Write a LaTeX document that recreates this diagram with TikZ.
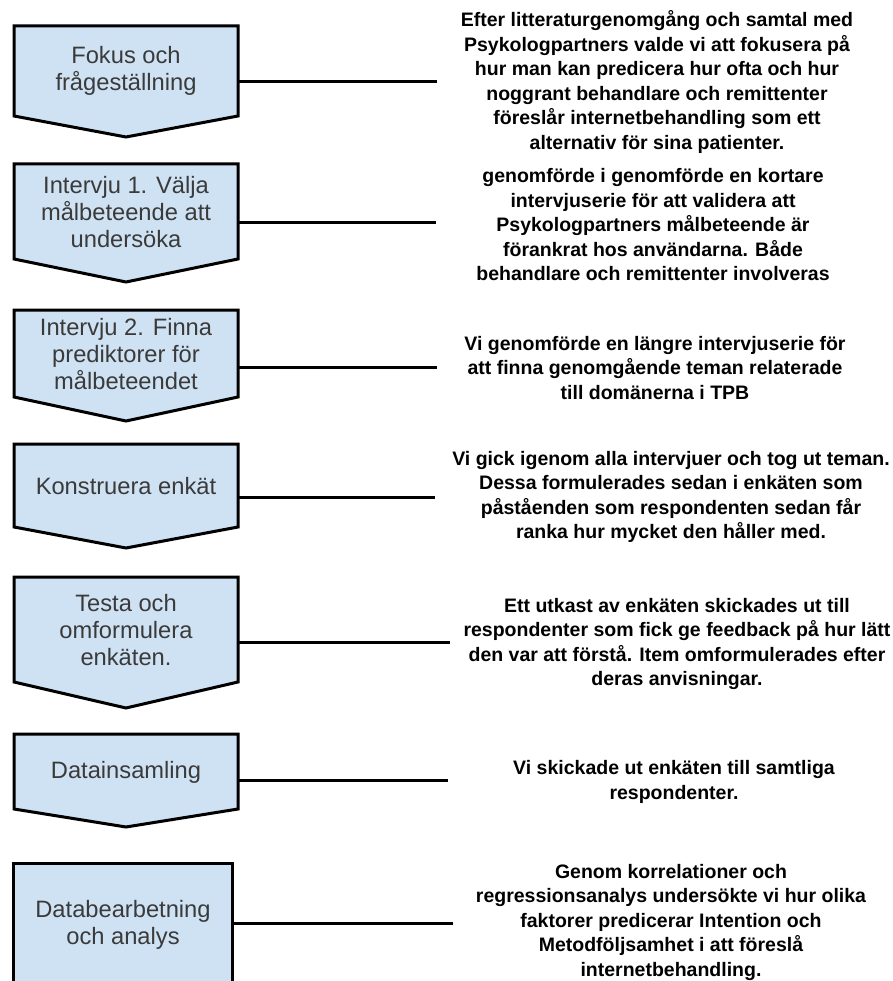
\documentclass[tikz,border=0pt]{standalone}
\usepackage{fontspec}
\setmainfont{Liberation Sans}
\definecolor{boxblue}{HTML}{CFE2F3}
\definecolor{boxtext}{HTML}{3A3A3A}
\begin{document}
\begin{tikzpicture}[x=1pt,y=-1pt,
  stepshape/.style={draw=black, line width=3pt, fill=boxblue, line join=miter},
  boxlabel/.style={align=center, text=boxtext, font=\fontsize{23.7}{26.7}\selectfont, inner sep=0pt},
  desc/.style={align=center, font=\bfseries\fontsize{19.5}{24.5}\selectfont, inner sep=0pt},
  link/.style={line width=3pt}]
\useasboundingbox (0,0) rectangle (892,981);
\clip (0,0) rectangle (892,981);

% Step 1
\draw[stepshape] (14,26) -- (238,26) -- (238,116) -- (126,137) -- (14,116) -- cycle;
\node[boxlabel] (l1) at (126,71) {Fokus och\\frågeställning};
\coordinate (s1) at (238,82);
\coordinate (e1) at (437,82);
\node[desc] (d1) at (657,82) {Efter litteraturgenomgång och samtal med\\Psykologpartners valde vi att fokusera på\\hur man kan predicera hur ofta och hur\\noggrant behandlare och remittenter\\föreslår internetbehandling som ett\\alternativ för sina patienter.};
\draw[link] (s1) -- (e1);

% Step 2
\draw[stepshape] (14,164) -- (238,164) -- (238,259) -- (126,282) -- (14,259) -- cycle;
\node[boxlabel] (l2) at (126,212) {Intervju 1. Välja\\målbeteende att\\undersöka};
\coordinate (s2) at (238,223);
\coordinate (e2) at (436,223);
\node[desc] (d2) at (653,225) {genomförde i genomförde en kortare\\intervjuserie för att validera att\\Psykologpartners målbeteende är\\förankrat hos användarna. Både\\behandlare och remittenter involveras};
\draw[link] (s2) -- (e2);

% Step 3
\draw[stepshape] (14,310) -- (238,310) -- (238,397) -- (126,421) -- (14,397) -- cycle;
\node[boxlabel] (l3) at (126,354) {Intervju 2. Finna\\prediktorer för\\målbeteendet};
\coordinate (s3) at (238,367);
\coordinate (e3) at (437,367);
\node[desc] (d3) at (655,368) {Vi genomförde en längre intervjuserie för\\att finna genomgående teman relaterade\\till domänerna i TPB};
\draw[link] (s3) -- (e3);

% Step 4
\draw[stepshape] (14,444) -- (238,444) -- (238,527) -- (126,548) -- (14,527) -- cycle;
\node[boxlabel] (l4) at (126,486) {Konstruera enkät};
\coordinate (s4) at (238,497);
\coordinate (e4) at (435,497);
\node[desc] (d4) at (671,497) {Vi gick igenom alla intervjuer och tog ut teman.\\Dessa formulerades sedan i enkäten som\\påståenden som respondenten sedan får\\ranka hur mycket den håller med.};
\draw[link] (s4) -- (e4);

% Step 5
\draw[stepshape] (14,577) -- (238,577) -- (238,682) -- (126,708) -- (14,682) -- cycle;
\node[boxlabel] (l5) at (126,630) {Testa och\\omformulera\\enkäten.};
\coordinate (s5) at (238,642);
\coordinate (e5) at (450,642);
\node[desc] (d5) at (677,644) {Ett utkast av enkäten skickades ut till\\respondenter som fick ge feedback på hur lätt\\den var att förstå. Item omformulerades efter\\deras anvisningar.};
\draw[link] (s5) -- (e5);

% Step 6
\draw[stepshape] (14,734) -- (238,734) -- (238,809) -- (126,827) -- (14,809) -- cycle;
\node[boxlabel] (l6) at (126,772) {Datainsamling};
\coordinate (s6) at (238,780);
\coordinate (e6) at (448,780);
\node[desc] (d6) at (674,782) {Vi skickade ut enkäten till samtliga\\respondenter.};
\draw[link] (s6) -- (e6);

% Step 7
\draw[stepshape] (13.5,863) -- (232.5,863) -- (232.5,1000) -- (13.5,1000) -- cycle;
\node[boxlabel] (l7) at (123,925) {Databearbetning\\och analys};
\coordinate (s7) at (232.5,923);
\coordinate (e7) at (453,923);
\node[desc] (d7) at (671,922) {Genom korrelationer och\\regressionsanalys undersökte vi hur olika\\faktorer predicerar Intention och\\Metodföljsamhet i att föreslå\\internetbehandling.};
\draw[link] (s7) -- (e7);
\end{tikzpicture}
\end{document}
